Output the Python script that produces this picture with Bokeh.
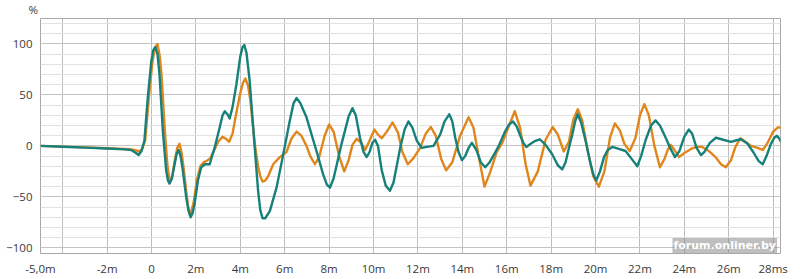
from bokeh.plotting import figure
from bokeh.models import Range1d, FixedTicker, SingleIntervalTicker, Label, Title
from bokeh.embed import file_html
from bokeh.resources import INLINE

# ---- data (time in ms, level in %) ----
teal_t = [-5.0, -4.0, -3.0, -2.0, -1.2, -0.9, -0.7, -0.58, -0.45, -0.32, -0.17, -0.01, 0.08, 0.17, 0.27,
          0.36, 0.51, 0.66, 0.74, 0.81, 0.92, 1.04, 1.13, 1.22, 1.31, 1.41, 1.56, 1.66, 1.76, 1.85,
          1.94, 2.09, 2.24, 2.4, 2.62, 2.84, 3.07, 3.2, 3.3, 3.42, 3.52, 3.65, 3.82, 4.0, 4.1,
          4.18, 4.28, 4.42, 4.65, 4.8, 4.9, 5.0, 5.12, 5.33, 5.63, 5.9, 6.23, 6.4, 6.53, 6.7,
          6.98, 7.43, 7.73, 7.9, 8.04, 8.2, 8.56, 8.88, 9.05, 9.2, 9.39, 9.55, 9.69, 9.82, 9.95,
          10.07, 10.2, 10.37, 10.55, 10.74, 10.9, 11.2, 11.4, 11.57, 11.75, 11.95, 12.17, 12.4, 12.7, 13.0,
          13.2, 13.41, 13.55, 13.68, 13.83, 13.98, 14.13, 14.28, 14.43, 14.63, 14.83, 15.03, 15.23, 15.44, 15.64,
          15.9, 16.1, 16.28, 16.45, 16.61, 16.75, 16.88, 17.08, 17.29, 17.49, 17.75, 18.04, 18.3, 18.5, 18.65,
          18.8, 18.95, 19.08, 19.2, 19.35, 19.55, 19.77, 19.9, 20.03, 20.2, 20.38, 20.55, 20.75, 21.05, 21.35,
          21.6, 21.88, 22.05, 22.26, 22.5, 22.7, 22.9, 23.16, 23.38, 23.58, 23.78, 24.0, 24.2, 24.35, 24.55,
          24.75, 24.9, 25.15, 25.42, 25.75, 26.1, 26.35, 26.55, 26.85, 27.1, 27.35, 27.53, 27.7, 27.9, 28.05,
          28.17, 28.28, 28.35]
teal_v = [0, -0.8, -1.7, -2.6, -3.4, -4.2, -7, -9, -5, 5, 47, 83, 94, 97, 90,
          70, 15, -24, -34, -37, -32, -18, -8, -4, -10, -24, -50, -63, -70, -66,
          -57, -34, -21, -18, -18, -2, 18, 30, 34, 31, 27, 38, 60, 88, 97,
          99, 91, 64, -2, -44, -63, -71, -71, -64, -41, -12, 25, 42, 47, 42,
          28, -5, -28, -38, -41, -32, 2, 29, 37, 30, 8, -6, -11, -6, 3,
          6, 0, -24, -39, -44, -36, -2, 16, 24, 18, 5, -2, -1, 0, 11,
          24, 31, 24, 8, -6, -14, -10, -2, 3, -4, -16, -21, -16, -8, 0,
          13, 21, 24, 19, 10, 3, -1, 2, 5, 6.5, 1, -8, -19, -23, -16,
          -2, 11, 24, 31, 23, 5, -17, -28, -34, -25, -11, -4, -1, -3, -5,
          -12, -20, -10, 6, 20, 25, 20, 8, -3, -11, -5, 9, 16, 12, -2,
          -9, -6, 3, 8, 6, 4, 5.5, 6.5, 2, -6, -15, -18, -10, 2, 8,
          10, 7, 4]

orange_t = [-5.0, -4.0, -3.0, -2.0, -1.2, -0.9, -0.7, -0.55, -0.42, -0.28, -0.13, 0.04, 0.15, 0.27, 0.37,
            0.45, 0.6, 0.72, 0.83, 0.93, 1.05, 1.16, 1.26, 1.35, 1.45, 1.55, 1.64, 1.72, 1.81, 1.9,
            2.05, 2.2, 2.35, 2.47, 2.65, 2.85, 3.0, 3.2, 3.35, 3.5, 3.65, 3.8, 4.0, 4.12, 4.23,
            4.35, 4.45, 4.65, 4.8, 4.9, 5.0, 5.12, 5.25, 5.48, 5.78, 6.08, 6.3, 6.53, 6.75, 6.98,
            7.15, 7.36, 7.55, 7.8, 8.0, 8.2, 8.45, 8.68, 8.88, 9.05, 9.24, 9.45, 9.62, 9.8, 10.04,
            10.2, 10.37, 10.6, 10.86, 11.1, 11.3, 11.54, 11.8, 12.1, 12.35, 12.58, 12.8, 13.05, 13.27, 13.55,
            13.9, 14.28, 14.5, 14.75, 15.0, 15.25, 15.55, 15.8, 16.05, 16.36, 16.6, 16.85, 17.07, 17.4, 17.75,
            18.07, 18.3, 18.57, 18.8, 19.0, 19.2, 19.4, 19.65, 19.9, 20.15, 20.4, 20.65, 20.87, 21.1, 21.3,
            21.54, 21.8, 22.0, 22.2, 22.4, 22.65, 22.9, 23.1, 23.25, 23.39, 23.55, 23.76, 24.0, 24.3, 24.55,
            24.8, 25.1, 25.4, 25.65, 25.87, 26.1, 26.3, 26.52, 26.75, 27.0, 27.3, 27.53, 27.75, 28.0, 28.2,
            28.35]
orange_v = [0, -0.7, -1.5, -2.3, -3, -3.5, -4.5, -5.5, -3, 6, 45, 82, 96, 100, 88,
            70, 15, -20, -36, -30, -14, -2, 2, -6, -22, -42, -58, -67, -63, -55,
            -33, -20, -16, -15, -12, -3, 4, 9, 7, 4, 12, 30, 52, 62, 66,
            59, 45, 2, -20, -30, -35, -34, -30, -18, -11, -6, 7, 14, 10, 0,
            -10, -18, -11, 10, 21, 14, -10, -25, -14, 1, 7, 3, -4, 4, 16,
            11, 7.5, 14, 23, 13, -6, -18, -12, -2, 12, 18.5, 10, -13, -24, -16,
            10, 28, 18, -12, -40, -26, -6, 3, 17, 34, 18, -18, -39, -25, 6,
            18.5, 11, -5.5, 4, 26, 36, 25, -5, -30, -40, -25, 8, 22, 15, 2,
            -5, 8, 30, 41, 30, 0, -21, -13, -4, 1, -4, -11, -7, -3, -1,
            -1, -5, -11, -18, -21, -14, -1, 7.5, 4, 0, -2, -4, 3, 14, 18,
            18]

x_ticks = [-5, -4, -2, 0, 2, 4, 6, 8, 10, 12, 14, 16, 18, 20, 22, 24, 26, 28]
x_tick_labels = ["-5,0m", "", "-2m", "0", "2m", "4m", "6m", "8m", "10m", "12m", "14m",
                 "16m", "18m", "20m", "22m", "24m", "26m", "28ms"]

FONT = "Open Sans"
TXT = "#3a3a3a"

p = figure(width=800, height=279, output_backend="svg", toolbar_location=None,
           x_range=Range1d(-5.0, 28.33), y_range=Range1d(-105.6, 125),
           min_border_left=40, min_border_right=20, min_border_top=18, min_border_bottom=26,
           background_fill_color="white", border_fill_color="white")
p.outline_line_color = "#a8a8a8"
p.outline_line_width = 1

# unit title above the y axis
p.add_layout(Title(text="%", align="left", offset=-12, standoff=0, vertical_align="top",
                   text_font=FONT, text_font_size="11.5px", text_font_style="normal",
                   text_color=TXT), "above")

# axes
p.xaxis.ticker = FixedTicker(ticks=x_ticks)
p.xaxis.major_label_overrides = {t: s for t, s in zip(x_ticks, x_tick_labels)}
p.yaxis.ticker = SingleIntervalTicker(interval=50, num_minor_ticks=5)
for ax in (p.xaxis[0], p.yaxis[0]):
    ax.axis_line_color = None
    ax.major_tick_line_color = None
    ax.minor_tick_line_color = None
    ax.major_label_text_font = FONT
    ax.major_label_text_font_size = "11.5px"
    ax.major_label_text_color = TXT
p.xaxis.major_label_standoff = 1
p.yaxis.major_label_standoff = 2

# grids
p.xgrid.grid_line_color = "#bdbdbd"
p.ygrid.grid_line_color = "#c4c4c4"
p.ygrid.minor_grid_line_color = "#e2e2e2"

p.line(orange_t, orange_v, line_color="#e0861c", line_width=2.4, line_join="round")
p.line(teal_t, teal_v, line_color="#16807a", line_width=2.4, line_join="round")

p.add_layout(Label(x=672, y=245, x_units="canvas", y_units="canvas", text="forum.onliner.by",
                   text_font="DejaVu Sans", text_font_style="bold", text_font_size="11px",
                   text_color="white", text_align="left", text_baseline="middle",
                   background_fill_color="#8a8a8a", background_fill_alpha=0.55, padding=1))

open("out.html", "w").write(file_html(p, INLINE))
